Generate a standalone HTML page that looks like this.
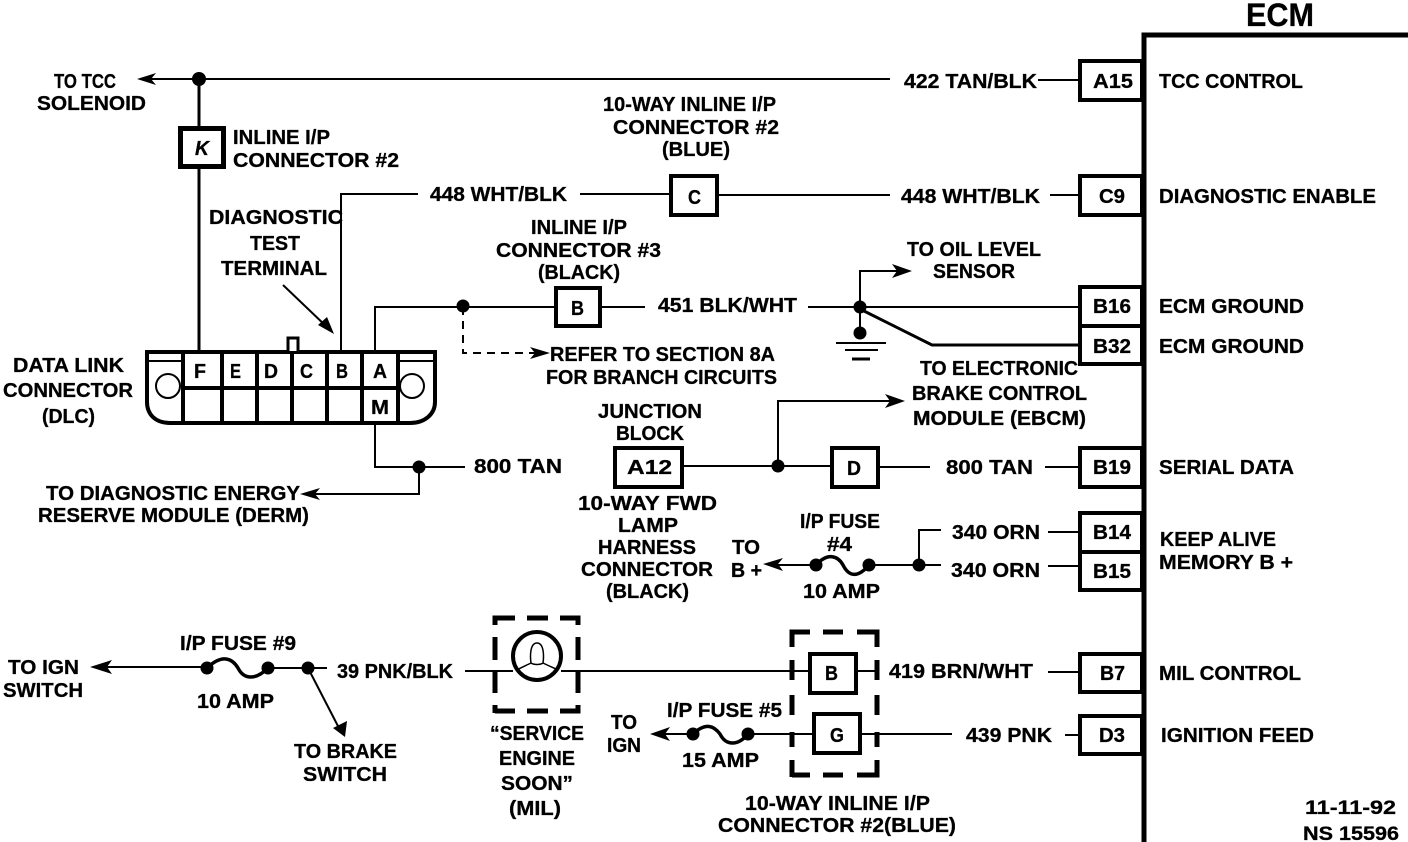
<!DOCTYPE html>
<html><head><meta charset="utf-8"><style>
html,body{margin:0;padding:0;background:#fff}
svg{display:block}
text{font-family:"Liberation Sans",sans-serif;font-weight:bold;font-size:20px;fill:#000;stroke:#000;stroke-width:.3}
.w{stroke:#000;stroke-width:2;fill:none}
.t{stroke:#000;stroke-width:3;fill:none}
.b{stroke:#000;stroke-width:4;fill:#fff}
.d{stroke:#000;stroke-width:5;fill:none}
</style></head><body>
<svg width="1408" height="842" viewBox="0 0 1408 842" xmlns="http://www.w3.org/2000/svg">
<!-- ECM bar -->
<path d="M1144 842V35H1408" stroke="#000" stroke-width="5" fill="none"/>
<!-- wires -->
<path class="w" d="M890 79H146"/>
<path d="M156 73L137 79L156 85L151 79Z"/>
<path class="w" d="M1038 80H1080"/>
<path class="t" d="M199 79V127M199 167V352"/>
<path class="w" d="M341 352V194H418M580 194H671M717 195H890M1050 195H1080"/>
<path class="w" d="M283 285L328 328"/>
<path d="M318 325L334 334L327 317Z"/>
<path class="w" d="M375 352V307H556M600 307H645M808 307H1080M860 307V271H905" />
<path d="M892 264L912 271L892 278L897 271Z"/>
<path class="w" d="M860 307V333"/>
<path class="t" d="M862 310L932 345H1080"/>
<path class="w" d="M836 343H886M845 350H878" />
<path class="t" d="M852 359H870"/>
<path d="M463 307V353H545" fill="none" stroke="#000" stroke-width="2" stroke-dasharray="8 6"/>
<path d="M530 347L550 353L530 359L535 353Z"/>
<path class="w" d="M375 423V467H465M419 467V494H310"/>
<path d="M320 488L300 494L320 500L315 494Z"/>
<path class="w" d="M682 466H832M778 466V401H895M878 467H930M1045 467H1080"/>
<path d="M885 394L905 401L885 408L890 401Z"/>
<path class="w" d="M815 565H770M869 565H941M919 565V530H941M1048 532H1080M1048 566H1080"/>
<path d="M783 558L763 564L783 571L778 564Z"/>
<path class="t" d="M816 565C828 552 838 556 843 565C849 577 858 578 869 565" style="stroke-width:3.5"/>
<path class="w" d="M207 667H100M268 668H327M465 671H513M561 671H810M855 671H878M1048 672H1080"/>
<path d="M112 660L90 667L112 674L107 667Z"/>
<path class="t" d="M207 668C222 654 232 658 238 668C244 680 256 680 268 668" style="stroke-width:3.5"/>
<path class="w" d="M308 668L340 730"/>
<path d="M333 728L345 737L347 721Z"/>
<path class="w" d="M693 734H665M748 734H813M860 734H952M1065 735H1080"/>
<path d="M670 727L650 734L670 741L665 734Z"/>
<path class="t" d="M693 734C706 722 714 726 720 734C726 746 738 746 748 734" style="stroke-width:3.5"/>
<!-- dots -->
<g fill="#000"><circle cx="199" cy="79" r="7"/><circle cx="463" cy="306" r="6.5"/><circle cx="860" cy="307" r="6.5"/><circle cx="860" cy="333" r="6.5"/><circle cx="419" cy="467" r="6.5"/><circle cx="778" cy="466" r="6.5"/><circle cx="816" cy="565" r="6.5"/><circle cx="869" cy="565" r="6.5"/><circle cx="919" cy="565" r="6.5"/><circle cx="207" cy="668" r="6.5"/><circle cx="268" cy="668" r="6.5"/><circle cx="308" cy="668" r="6.5"/><circle cx="693" cy="734" r="6.5"/><circle cx="748" cy="734" r="6.5"/></g>
<!-- connector boxes -->
<rect class="b" x="1080" y="61" width="62" height="39"/>
<rect class="b" x="1080" y="176" width="62" height="39"/>
<rect class="b" x="1080" y="287" width="62" height="39"/>
<rect class="b" x="1080" y="326" width="62" height="38"/>
<rect class="b" x="1080" y="448" width="62" height="39"/>
<rect class="b" x="1080" y="513" width="62" height="39"/>
<rect class="b" x="1080" y="552" width="62" height="38"/>
<rect class="b" x="1080" y="654" width="62" height="38"/>
<rect class="b" x="1080" y="716" width="62" height="38"/>
<rect class="b" x="180.500" y="128.500" width="43" height="38" style="stroke-width:5"/>
<rect class="b" x="671" y="176" width="46" height="39"/>
<rect class="b" x="556" y="288" width="44" height="38"/>
<rect class="b" x="615" y="448" width="67" height="39"/>
<rect class="b" x="832" y="448" width="46" height="39"/>
<rect class="b" x="810" y="654" width="46" height="39"/>
<rect class="b" x="814" y="714" width="46" height="39"/>
<!-- DLC -->
<path d="M147 352H435V402C435 414 425 423 410 423H170C155 423 147 414 147 402Z" fill="#fff" stroke="#000" stroke-width="4"/>
<path d="M183 352V423M222 352V423M257 352V423M292 352V423M327 352V423M362 352V423M398 352V423M183 388H398" stroke="#000" stroke-width="4" fill="none"/>
<path d="M147 361H183M398 361H435" stroke="#000" stroke-width="2"/>
<path d="M288 351V338H298V351" stroke="#000" stroke-width="3" fill="#fff"/>
<circle cx="168" cy="386" r="12" fill="#fff" stroke="#000" stroke-width="2"/>
<circle cx="412" cy="386" r="12" fill="#fff" stroke="#000" stroke-width="2"/>
<!-- MIL lamp -->
<circle cx="537" cy="656" r="24" fill="#fff" stroke="#000" stroke-width="4"/>
<path d="M537 643C530 643 530 656 531 663C525 666 520 668 517 670M537 643C544 643 544 656 543 663C549 666 554 668 558 670M531 663C534 665 540 665 543 663" fill="none" stroke="#000" stroke-width="1.5"/>
<!-- dashed boxes -->
<path class="d" d="M495 625V618H515M527 618H548M560 618H578V625M578 637V660M578 672V693M495 637V660M495 672V693M495 713V705M495 711H515M527 711H548M560 711H578V705"/>
<path class="d" d="M792 647V632H810M823 632H843M857 632H877V647M877 660V680M877 695V715M877 732V747M792 660V680M792 695V715M792 732V747M792 777V760M792 775H810M823 775H843M857 775H877V760"/>
<!-- text -->
<text x="1246" y="26" textLength="68" lengthAdjust="spacingAndGlyphs" style="font-size:32px">ECM</text>
<text x="54" y="88" textLength="62" lengthAdjust="spacingAndGlyphs">TO TCC</text>
<text x="37" y="110" textLength="109" lengthAdjust="spacingAndGlyphs">SOLENOID</text>
<text x="195" y="155" textLength="14" lengthAdjust="spacingAndGlyphs" font-style="italic">K</text>
<text x="233" y="144" textLength="97" lengthAdjust="spacingAndGlyphs">INLINE I/P</text>
<text x="233" y="167" textLength="166" lengthAdjust="spacingAndGlyphs">CONNECTOR #2</text>
<text x="603" y="111" textLength="173" lengthAdjust="spacingAndGlyphs">10-WAY INLINE I/P</text>
<text x="613" y="134" textLength="166" lengthAdjust="spacingAndGlyphs">CONNECTOR #2</text>
<text x="662" y="156" textLength="68" lengthAdjust="spacingAndGlyphs">(BLUE)</text>
<text x="904" y="88" textLength="133" lengthAdjust="spacingAndGlyphs">422 TAN/BLK</text>
<text x="1093" y="88" textLength="40" lengthAdjust="spacingAndGlyphs">A15</text>
<text x="1159" y="88" textLength="144" lengthAdjust="spacingAndGlyphs">TCC CONTROL</text>
<text x="430" y="201" textLength="137" lengthAdjust="spacingAndGlyphs">448 WHT/BLK</text>
<text x="901" y="203" textLength="139" lengthAdjust="spacingAndGlyphs">448 WHT/BLK</text>
<text x="1099" y="203" textLength="26" lengthAdjust="spacingAndGlyphs">C9</text>
<text x="1159" y="203" textLength="217" lengthAdjust="spacingAndGlyphs">DIAGNOSTIC ENABLE</text>
<text x="688" y="204" textLength="13" lengthAdjust="spacingAndGlyphs">C</text>
<text x="209" y="224" textLength="134" lengthAdjust="spacingAndGlyphs">DIAGNOSTIC</text>
<text x="250" y="250" textLength="50" lengthAdjust="spacingAndGlyphs">TEST</text>
<text x="221" y="275" textLength="106" lengthAdjust="spacingAndGlyphs">TERMINAL</text>
<text x="531" y="234" textLength="96" lengthAdjust="spacingAndGlyphs">INLINE I/P</text>
<text x="496" y="257" textLength="165" lengthAdjust="spacingAndGlyphs">CONNECTOR #3</text>
<text x="538" y="279" textLength="82" lengthAdjust="spacingAndGlyphs">(BLACK)</text>
<text x="907" y="256" textLength="134" lengthAdjust="spacingAndGlyphs">TO OIL LEVEL</text>
<text x="933" y="278" textLength="82" lengthAdjust="spacingAndGlyphs">SENSOR</text>
<text x="658" y="312" textLength="139" lengthAdjust="spacingAndGlyphs">451 BLK/WHT</text>
<text x="571" y="315" textLength="13" lengthAdjust="spacingAndGlyphs">B</text>
<text x="1093" y="313" textLength="38" lengthAdjust="spacingAndGlyphs">B16</text>
<text x="1093" y="353" textLength="38" lengthAdjust="spacingAndGlyphs">B32</text>
<text x="1159" y="313" textLength="145" lengthAdjust="spacingAndGlyphs">ECM GROUND</text>
<text x="1159" y="353" textLength="145" lengthAdjust="spacingAndGlyphs">ECM GROUND</text>
<text x="550" y="361" textLength="225" lengthAdjust="spacingAndGlyphs">REFER TO SECTION 8A</text>
<text x="546" y="384" textLength="231" lengthAdjust="spacingAndGlyphs">FOR BRANCH CIRCUITS</text>
<text x="13" y="372" textLength="111" lengthAdjust="spacingAndGlyphs">DATA LINK</text>
<text x="3" y="397" textLength="130" lengthAdjust="spacingAndGlyphs">CONNECTOR</text>
<text x="42" y="423" textLength="53" lengthAdjust="spacingAndGlyphs">(DLC)</text>
<text x="194" y="378" textLength="12" lengthAdjust="spacingAndGlyphs">F</text>
<text x="230" y="378" textLength="11" lengthAdjust="spacingAndGlyphs">E</text>
<text x="264" y="378" textLength="14" lengthAdjust="spacingAndGlyphs">D</text>
<text x="300" y="378" textLength="13" lengthAdjust="spacingAndGlyphs">C</text>
<text x="336" y="378" textLength="12" lengthAdjust="spacingAndGlyphs">B</text>
<text x="373" y="378" textLength="14" lengthAdjust="spacingAndGlyphs">A</text>
<text x="371" y="414" textLength="18" lengthAdjust="spacingAndGlyphs">M</text>
<text x="920" y="375" textLength="158" lengthAdjust="spacingAndGlyphs">TO ELECTRONIC</text>
<text x="912" y="400" textLength="175" lengthAdjust="spacingAndGlyphs">BRAKE CONTROL</text>
<text x="913" y="425" textLength="173" lengthAdjust="spacingAndGlyphs">MODULE (EBCM)</text>
<text x="598" y="418" textLength="104" lengthAdjust="spacingAndGlyphs">JUNCTION</text>
<text x="616" y="440" textLength="68" lengthAdjust="spacingAndGlyphs">BLOCK</text>
<text x="627" y="474" textLength="45" lengthAdjust="spacingAndGlyphs">A12</text>
<text x="847" y="475" textLength="14" lengthAdjust="spacingAndGlyphs">D</text>
<text x="474" y="473" textLength="88" lengthAdjust="spacingAndGlyphs">800 TAN</text>
<text x="946" y="474" textLength="87" lengthAdjust="spacingAndGlyphs">800 TAN</text>
<text x="1093" y="474" textLength="38" lengthAdjust="spacingAndGlyphs">B19</text>
<text x="1159" y="474" textLength="135" lengthAdjust="spacingAndGlyphs">SERIAL DATA</text>
<text x="46" y="500" textLength="254" lengthAdjust="spacingAndGlyphs">TO DIAGNOSTIC ENERGY</text>
<text x="38" y="522" textLength="271" lengthAdjust="spacingAndGlyphs">RESERVE MODULE (DERM)</text>
<text x="578" y="510" textLength="139" lengthAdjust="spacingAndGlyphs">10-WAY FWD</text>
<text x="618" y="532" textLength="60" lengthAdjust="spacingAndGlyphs">LAMP</text>
<text x="598" y="554" textLength="98" lengthAdjust="spacingAndGlyphs">HARNESS</text>
<text x="581" y="576" textLength="132" lengthAdjust="spacingAndGlyphs">CONNECTOR</text>
<text x="606" y="598" textLength="83" lengthAdjust="spacingAndGlyphs">(BLACK)</text>
<text x="800" y="528" textLength="80" lengthAdjust="spacingAndGlyphs">I/P FUSE</text>
<text x="827" y="551" textLength="25" lengthAdjust="spacingAndGlyphs">#4</text>
<text x="803" y="598" textLength="77" lengthAdjust="spacingAndGlyphs">10 AMP</text>
<text x="732" y="554" textLength="28" lengthAdjust="spacingAndGlyphs">TO</text>
<text x="731" y="577" textLength="31" lengthAdjust="spacingAndGlyphs">B +</text>
<text x="952" y="539" textLength="88" lengthAdjust="spacingAndGlyphs">340 ORN</text>
<text x="951" y="577" textLength="89" lengthAdjust="spacingAndGlyphs">340 ORN</text>
<text x="1093" y="539" textLength="38" lengthAdjust="spacingAndGlyphs">B14</text>
<text x="1093" y="578" textLength="38" lengthAdjust="spacingAndGlyphs">B15</text>
<text x="1160" y="546" textLength="116" lengthAdjust="spacingAndGlyphs">KEEP ALIVE</text>
<text x="1159" y="569" textLength="134" lengthAdjust="spacingAndGlyphs">MEMORY B +</text>
<text x="180" y="650" textLength="116" lengthAdjust="spacingAndGlyphs">I/P FUSE #9</text>
<text x="197" y="708" textLength="77" lengthAdjust="spacingAndGlyphs">10 AMP</text>
<text x="8" y="674" textLength="71" lengthAdjust="spacingAndGlyphs">TO IGN</text>
<text x="3" y="697" textLength="80" lengthAdjust="spacingAndGlyphs">SWITCH</text>
<text x="337" y="678" textLength="116" lengthAdjust="spacingAndGlyphs">39 PNK/BLK</text>
<text x="294" y="758" textLength="103" lengthAdjust="spacingAndGlyphs">TO BRAKE</text>
<text x="303" y="781" textLength="84" lengthAdjust="spacingAndGlyphs">SWITCH</text>
<text x="825" y="680" textLength="13" lengthAdjust="spacingAndGlyphs">B</text>
<text x="830" y="742" textLength="14" lengthAdjust="spacingAndGlyphs">G</text>
<text x="889" y="678" textLength="144" lengthAdjust="spacingAndGlyphs">419 BRN/WHT</text>
<text x="1100" y="680" textLength="25" lengthAdjust="spacingAndGlyphs">B7</text>
<text x="1159" y="680" textLength="142" lengthAdjust="spacingAndGlyphs">MIL CONTROL</text>
<text x="966" y="742" textLength="86" lengthAdjust="spacingAndGlyphs">439 PNK</text>
<text x="1099" y="742" textLength="26" lengthAdjust="spacingAndGlyphs">D3</text>
<text x="1161" y="742" textLength="153" lengthAdjust="spacingAndGlyphs">IGNITION FEED</text>
<text x="667" y="717" textLength="115" lengthAdjust="spacingAndGlyphs">I/P FUSE #5</text>
<text x="611" y="729" textLength="26" lengthAdjust="spacingAndGlyphs">TO</text>
<text x="607" y="752" textLength="34" lengthAdjust="spacingAndGlyphs">IGN</text>
<text x="682" y="767" textLength="77" lengthAdjust="spacingAndGlyphs">15 AMP</text>
<text x="490" y="740" textLength="94" lengthAdjust="spacingAndGlyphs">“SERVICE</text>
<text x="499" y="765" textLength="76" lengthAdjust="spacingAndGlyphs">ENGINE</text>
<text x="501" y="790" textLength="72" lengthAdjust="spacingAndGlyphs">SOON”</text>
<text x="509" y="815" textLength="52" lengthAdjust="spacingAndGlyphs">(MIL)</text>
<text x="745" y="810" textLength="185" lengthAdjust="spacingAndGlyphs">10-WAY INLINE I/P</text>
<text x="718" y="832" textLength="238" lengthAdjust="spacingAndGlyphs">CONNECTOR  #2(BLUE)</text>
<text x="1305" y="814" textLength="91" lengthAdjust="spacingAndGlyphs" style="font-size:19px">11-11-92</text>
<text x="1303" y="840" textLength="96" lengthAdjust="spacingAndGlyphs" style="font-size:19px">NS 15596</text>
</svg>
</body></html>
